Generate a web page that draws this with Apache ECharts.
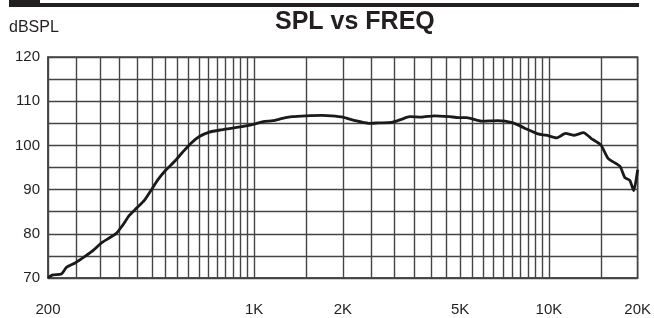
<!DOCTYPE html>
<html>
<head>
<meta charset="utf-8">
<script src="https://cdn.jsdelivr.net/npm/echarts@6/dist/echarts.min.js"></script>
<style>
  html, body { margin: 0; padding: 0; background: #fff; }
  #chart { width: 654px; height: 318px; }
</style>
</head>
<body>
<div id="chart"></div>
<script>
var freqs = [200, 208, 222, 231, 247, 267, 284, 303, 320, 341, 358, 378, 398, 425, 447, 470, 503, 538, 573, 611,
  652, 705, 770, 846, 938, 1000, 1074, 1158, 1248, 1345, 1500, 1700, 1830, 2000, 2200, 2450, 2650, 2930, 3160, 3370,
  3690, 4090, 4600, 4930, 5260, 5900, 6700, 7560, 8280, 9180, 9790, 10600, 11400, 12200, 13100, 13900, 15000, 15900,
  17400, 18100, 18800, 19400, 20000]
var spl = [70.1, 70.7, 70.9, 72.4, 73.4, 74.9, 76.2, 77.9, 78.9, 80.1, 81.9, 84.2, 85.7, 87.6, 89.8, 92.1, 94.5, 96.4, 98.5, 100.5,
  102.0, 103.0, 103.5, 103.9, 104.4, 104.8, 105.4, 105.6, 106.1, 106.5, 106.7, 106.8, 106.7, 106.4, 105.6, 105.0, 105.1, 105.2, 105.9, 106.5,
  106.4, 106.7, 106.5, 106.3, 106.3, 105.5, 105.6, 105.1, 103.9, 102.6, 102.3, 101.7, 102.7, 102.3, 102.9, 101.6, 100.1, 97.0,
  95.3, 92.7, 92.1, 89.8, 94.5]

// vertical grid lines of the chart paper
var gridFreqs = [200, 250, 300, 350, 400, 450, 500, 550, 600, 650, 700, 750, 800, 850, 900, 950,
  1000, 1500, 2000, 2500, 3000, 3500, 4000, 4500, 5000, 5500, 6000, 6500, 7000, 7500, 8000, 8500, 9000, 9500,
  10000, 15000, 20000]
var xLabels = [200, 1000, 2000, 5000, 10000, 20000]
var yLabels = [70, 80, 90, 100, 110, 120]

var FONT = '"Liberation Sans Narrow", "Liberation Sans", Arial, sans-serif'
var INK = '#231f20'
var GRID = '#444'

var chart = echarts.init(document.getElementById('chart'))
chart.setOption({
  animation: false,
  backgroundColor: '#fff',
  title: [{
    text: 'SPL vs FREQ',
    left: 275,
    top: 10,
    padding: 0,
    textStyle: { fontFamily: FONT, fontSize: 25, fontWeight: 'bold', color: INK }
  }, {
    text: 'dBSPL',
    left: 9,
    top: 20,
    padding: 0,
    textStyle: { fontFamily: FONT, fontSize: 16, fontWeight: 'normal', color: INK }
  }],
  graphic: [
    { type: 'rect', shape: { x: 9, y: 0, width: 31, height: 7 }, style: { fill: INK } },
    { type: 'rect', shape: { x: 40, y: 3, width: 599, height: 4 }, style: { fill: INK } }
  ],
  grid: {
    left: 48,
    top: 57,
    right: 14,
    bottom: 40,
    show: true,
    borderColor: GRID,
    borderWidth: 1.5
  },
  xAxis: {
    type: 'log',
    logBase: 10,
    min: 200,
    max: 20000,
    axisLine: { show: true, lineStyle: { color: GRID, width: 1.5 } },
    axisTick: { show: false, customValues: gridFreqs },
    splitLine: { show: true, lineStyle: { color: GRID, width: 1.4 } },
    minorSplitLine: { show: false },
    axisLabel: {
      customValues: xLabels,
      margin: 24,
      fontFamily: FONT,
      fontSize: 15,
      color: INK,
      formatter: function (v) {
        return v >= 1000 ? (v / 1000) + 'K' : String(v)
      }
    }
  },
  yAxis: {
    type: 'value',
    min: 70,
    max: 120,
    interval: 5,
    axisLine: { show: true, lineStyle: { color: GRID, width: 1.5 } },
    axisTick: { show: false },
    splitLine: { show: true, lineStyle: { color: GRID, width: 1.4 } },
    axisLabel: {
      customValues: yLabels,
      margin: 8,
      fontFamily: FONT,
      fontSize: 15,
      color: INK
    }
  },
  series: [{
    name: 'SPL',
    type: 'line',
    data: freqs.map(function (f, i) { return [f, spl[i]] }),
    showSymbol: false,
    smooth: 0.2,
    lineStyle: { color: '#1a1a1a', width: 2.8 },
    z: 5
  }]
})
</script>
</body>
</html>
